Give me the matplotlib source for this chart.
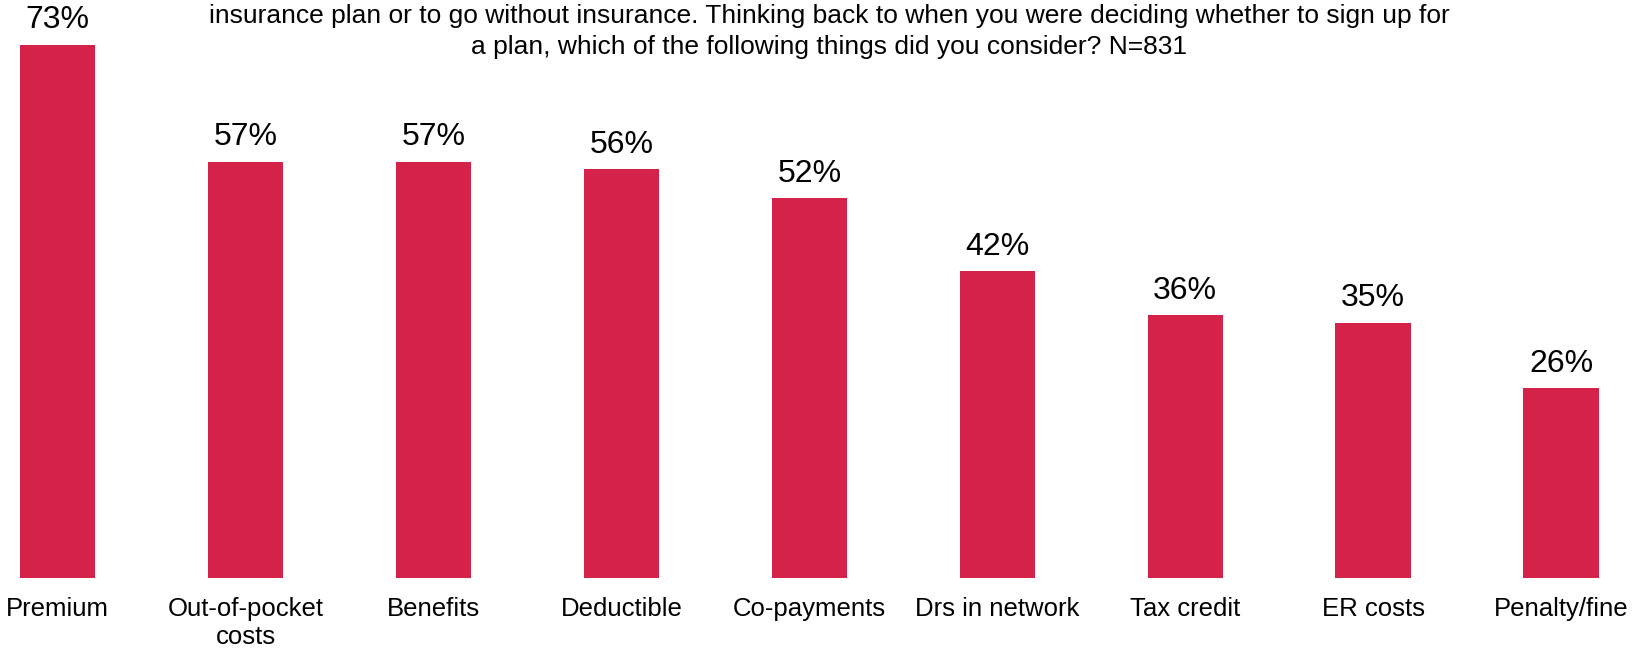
import matplotlib.pyplot as plt

plt.rcParams['font.family'] = ['Liberation Sans', 'DejaVu Sans']

categories = ["Premium", "Out-of-pocket\ncosts", "Benefits", "Deductible", "Co-payments",
              "Drs in network", "Tax credit", "ER costs", "Penalty/fine"]
values = [73, 57, 57, 56, 52, 42, 36, 35, 26]

title_lines = ["insurance plan or to go without insurance. Thinking back to when you were deciding whether to sign up for",
               "a plan, which of the following things did you consider? N=831"]

bar_color = "#D42248"

fig = plt.figure(figsize=(16.32, 6.5), dpi=100)
ax = fig.add_axes([0, 72 / 650, 1, 578 / 650])

x = range(len(categories))
bars = ax.bar(x, values, width=0.4, color=bar_color)

# value labels sit a fixed distance above each bar
for b, v in zip(bars, values):
    ax.annotate(f"{v}%", (b.get_x() + b.get_width() / 2, v), xytext=(0, 12),
                textcoords="offset points", ha="center", va="baseline", fontsize=23)

ax.set_xlim(-0.3076, 8.378)
ax.set_ylim(0, 79.18)
ax.set_xticks(list(x))
ax.set_xticklabels(categories, fontsize=18.5, linespacing=1.2)
ax.tick_params(axis="x", length=0, pad=14)
ax.set_yticks([])
for s in ax.spines.values():
    s.set_visible(False)

for line, y in zip(title_lines, [627 / 650, 596 / 650]):
    fig.text(0.508, y, line, ha="center", va="baseline", fontsize=19)

fig.savefig("out.png", dpi=100)
